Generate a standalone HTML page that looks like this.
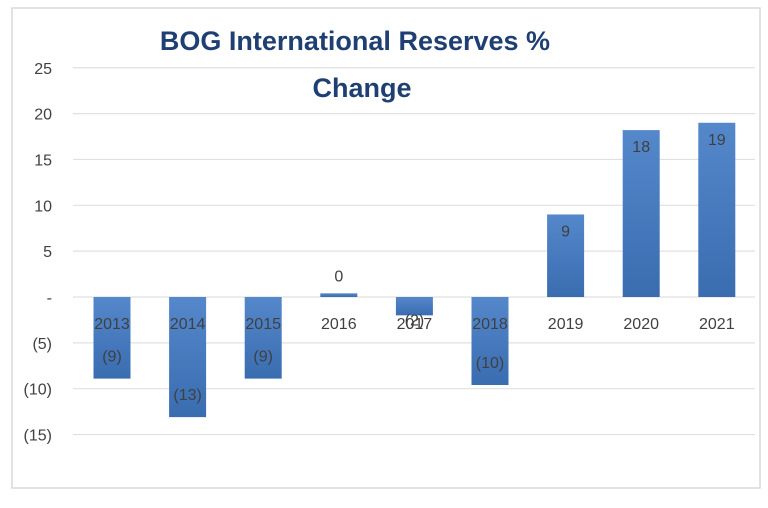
<!DOCTYPE html>
<html><head><style>
body{margin:0;background:#fff;font-family:"Liberation Sans",sans-serif;}
</style></head><body>
<svg width="768" height="503" viewBox="0 0 768 503">
<defs>
<linearGradient id="gp" x1="0" y1="0" x2="0" y2="1"><stop offset="0" stop-color="#5488cb"/><stop offset="1" stop-color="#3a6cb0"/></linearGradient>
</defs>
<rect x="12" y="8" width="748" height="480" fill="#fff" stroke="#d9d9d9" stroke-width="1.5"/>
<text x="355" y="50" text-anchor="middle" font-size="27" font-weight="bold" fill="#1f3f73">BOG International Reserves %</text>
<text x="362" y="97" text-anchor="middle" font-size="27" font-weight="bold" fill="#1f3f73">Change</text>
<g id="grid"></g><g id="bars"></g><g id="labels"></g>
</svg>
<script>
const years=["2013","2014","2015","2016","2017","2018","2019","2020","2021"];
const values=[-8.9,-13.1,-8.9,0.4,-2,-9.6,9,18.2,19];
const valueLabels=["(9)","(13)","(9)","0","(2)","(10)","9","18","19"];
const ticks=[25,20,15,10,5,0,-5,-10,-15];
const tickLabels=["25","20","15","10","5","-","(5)","(10)","(15)"];
const ns="http://www.w3.org/2000/svg";
const y=v=>297-v*9.17;
const x=i=>112+i*75.6;
function mk(t,a,p){const e=document.createElementNS(ns,t);for(const k in a)e.setAttribute(k,a[k]);p.appendChild(e);return e;}
const g=document.getElementById('grid'),b=document.getElementById('bars'),l=document.getElementById('labels');
ticks.forEach((t,i)=>{
 const ln=mk('line',{x1:73,x2:755,y1:y(t),y2:y(t),stroke:'#e0e0e0','stroke-width':1.2},g);
 
 
 const tx=mk('text',{x:52,y:y(t)+6,'text-anchor':'end','font-size':16,fill:'#404040'},g);
 tx.textContent=tickLabels[i];
 
 
});
values.forEach((v,i)=>{
 const top=Math.min(y(v),y(0)),h=Math.abs(y(v)-y(0));
 const r=mk('rect',{x:x(i)-18.5,y:top,width:37,height:Math.max(h,1),fill:'url(#gp)'},b);
 
 
 const c=mk('text',{x:x(i),y:329,'text-anchor':'middle','font-size':16,fill:'#404040'},l);
 c.textContent=years[i];
 
 
 let ly;
 if(v>=5) ly=y(v)+22; else if(v>=0) ly=y(v)-12; else if(v>-4) ly=y(v)+10; else ly=y(v)-17;
 const d=mk('text',{x:x(i),y:ly,'text-anchor':'middle','font-size':16,fill:'#404040'},l);
 d.textContent=valueLabels[i];
 
 
});
</script>
</body></html>
